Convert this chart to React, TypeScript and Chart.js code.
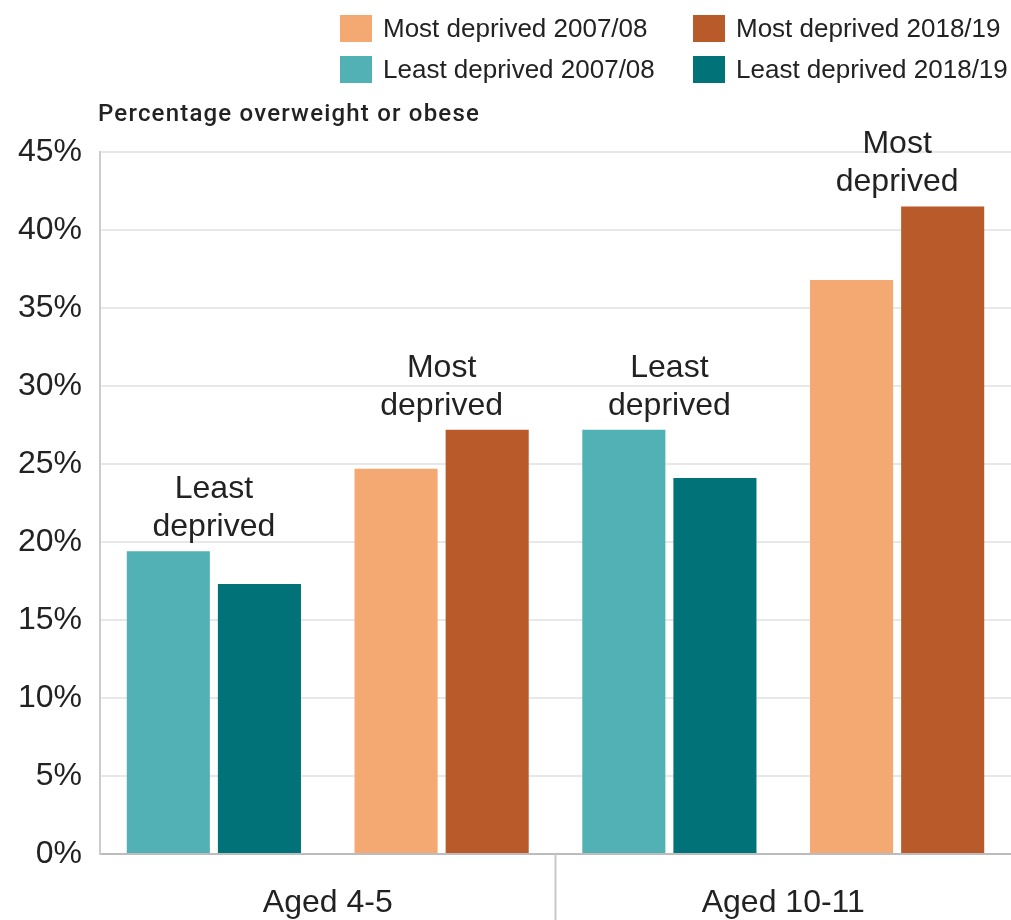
import React, { useEffect, useRef } from 'react';
import { Chart, registerables } from 'chart.js';

Chart.register(...registerables);

const categories = ['Least deprived, aged 4-5', 'Most deprived, aged 4-5', 'Least deprived, aged 10-11', 'Most deprived, aged 10-11'];
const pairLabels = [['Least', 'deprived'], ['Most', 'deprived'], ['Least', 'deprived'], ['Most', 'deprived']];
const ageGroups = ['Aged 4-5', 'Aged 10-11'];

const mostDeprived0708 = [null, 24.7, null, 36.8];
const mostDeprived1819 = [null, 27.2, null, 41.5];
const leastDeprived0708 = [19.4, null, 27.2, null];
const leastDeprived1819 = [17.3, null, 24.1, null];

const seriesNames = ['Most deprived 2007/08', 'Most deprived 2018/19', 'Least deprived 2007/08', 'Least deprived 2018/19'];
const seriesColors = ['#f4a872', '#b85a29', '#52b1b5', '#007278'];
const yTitle = 'Percentage overweight or obese';
const yMax = 45;
const yStep = 5;

const FONT = '"Liberation Sans", Arial, Helvetica, sans-serif';
const TEXT = '#222222';

const overlayPlugin = {
  id: 'overlay',
  afterDraw(chart: any) {
    const ctx = chart.ctx;
    const xs = chart.scales.x;
    const area = chart.chartArea;
    ctx.save();

    // legend (2 x 2 grid)
    const colX = [340, 693];
    const rowY = [15, 56];
    ctx.font = `26px ${FONT}`;
    ctx.textBaseline = 'middle';
    ctx.textAlign = 'left';
    seriesNames.forEach((name, i) => {
      const c = i % 2;
      const r = Math.floor(i / 2);
      ctx.fillStyle = seriesColors[i];
      ctx.fillRect(colX[c], rowY[r], 32, 27);
      ctx.fillStyle = TEXT;
      ctx.fillText(name, colX[c] + 43, rowY[r] + 15);
    });

    // axis title
    ctx.font = `500 24px Roboto, ${FONT}`;
    (ctx as any).letterSpacing = '1.2px';
    ctx.fillStyle = TEXT;
    ctx.textAlign = 'left';
    ctx.fillText(yTitle, 98, 115);
    (ctx as any).letterSpacing = '0px';

    // bar pair annotations
    ctx.font = `32px ${FONT}`;
    ctx.textAlign = 'center';
    categories.forEach((_, i) => {
      let top = Infinity;
      chart.data.datasets.forEach((ds: any, d: number) => {
        const v = ds.data[i];
        if (v !== null && v !== undefined) {
          const el = chart.getDatasetMeta(d).data[i];
          if (el && isFinite(el.y)) top = Math.min(top, el.y);
        }
      });
      const cx = xs.getPixelForValue(i);
      ctx.fillText(pairLabels[i][0], cx, top - 62);
      ctx.fillText(pairLabels[i][1], cx, top - 24);
    });

    // age group separator and labels
    const sepX = (xs.getPixelForValue(1) + xs.getPixelForValue(2)) / 2;
    ctx.strokeStyle = '#c8c8c8';
    ctx.lineWidth = 2;
    ctx.beginPath();
    ctx.moveTo(sepX, area.bottom);
    ctx.lineTo(sepX, chart.height);
    ctx.stroke();

    ctx.font = `32px ${FONT}`;
    ctx.fillStyle = TEXT;
    ageGroups.forEach((g, gi) => {
      const cx = (xs.getPixelForValue(gi * 2) + xs.getPixelForValue(gi * 2 + 1)) / 2;
      ctx.fillText(g, cx, 903);
    });

    ctx.restore();
  },
};

export default function App() {
  const ref = useRef<HTMLCanvasElement | null>(null);

  useEffect(() => {
    document.body.style.margin = '0';
    const canvas = ref.current;
    if (!canvas) return;
    const seriesData = [mostDeprived0708, mostDeprived1819, leastDeprived0708, leastDeprived1819];
    const chart = new Chart(canvas, {
      type: 'bar',
      data: {
        labels: categories,
        datasets: seriesNames.map((name, i) => ({
          label: name,
          data: seriesData[i] as any,
          backgroundColor: seriesColors[i],
          borderWidth: 0,
          skipNull: true,
          categoryPercentage: 0.8,
          barPercentage: 0.912,
        })),
      },
      options: {
        animation: false,
        responsive: false,
        layout: { padding: { top: 152, left: 0, right: 0, bottom: 0 } },
        plugins: {
          legend: { display: false },
          tooltip: { enabled: false },
          title: { display: false },
        },
        scales: {
          x: {
            ticks: { display: false },
            grid: { display: false, drawTicks: false },
            border: { display: true, color: '#bcbcbc', width: 2 },
            afterFit(scale: any) {
              scale.height = 66;
            },
          },
          y: {
            min: 0,
            max: yMax,
            ticks: {
              stepSize: yStep,
              padding: 18,
              color: TEXT,
              font: { family: FONT, size: 32 },
              callback: (v: any) => `${v}%`,
            },
            grid: { color: '#e8e8e8', lineWidth: 2, drawTicks: false },
            border: { display: true, color: '#cccccc', width: 2 },
            afterFit(scale: any) {
              scale.width = 100;
            },
          },
        },
      },
      plugins: [overlayPlugin],
    });
    return () => chart.destroy();
  }, []);

  return (
    <div style={{ width: 1011, height: 920 }}>
      <canvas ref={ref} width={1011} height={920} style={{ display: 'block' }} />
    </div>
  );
}
